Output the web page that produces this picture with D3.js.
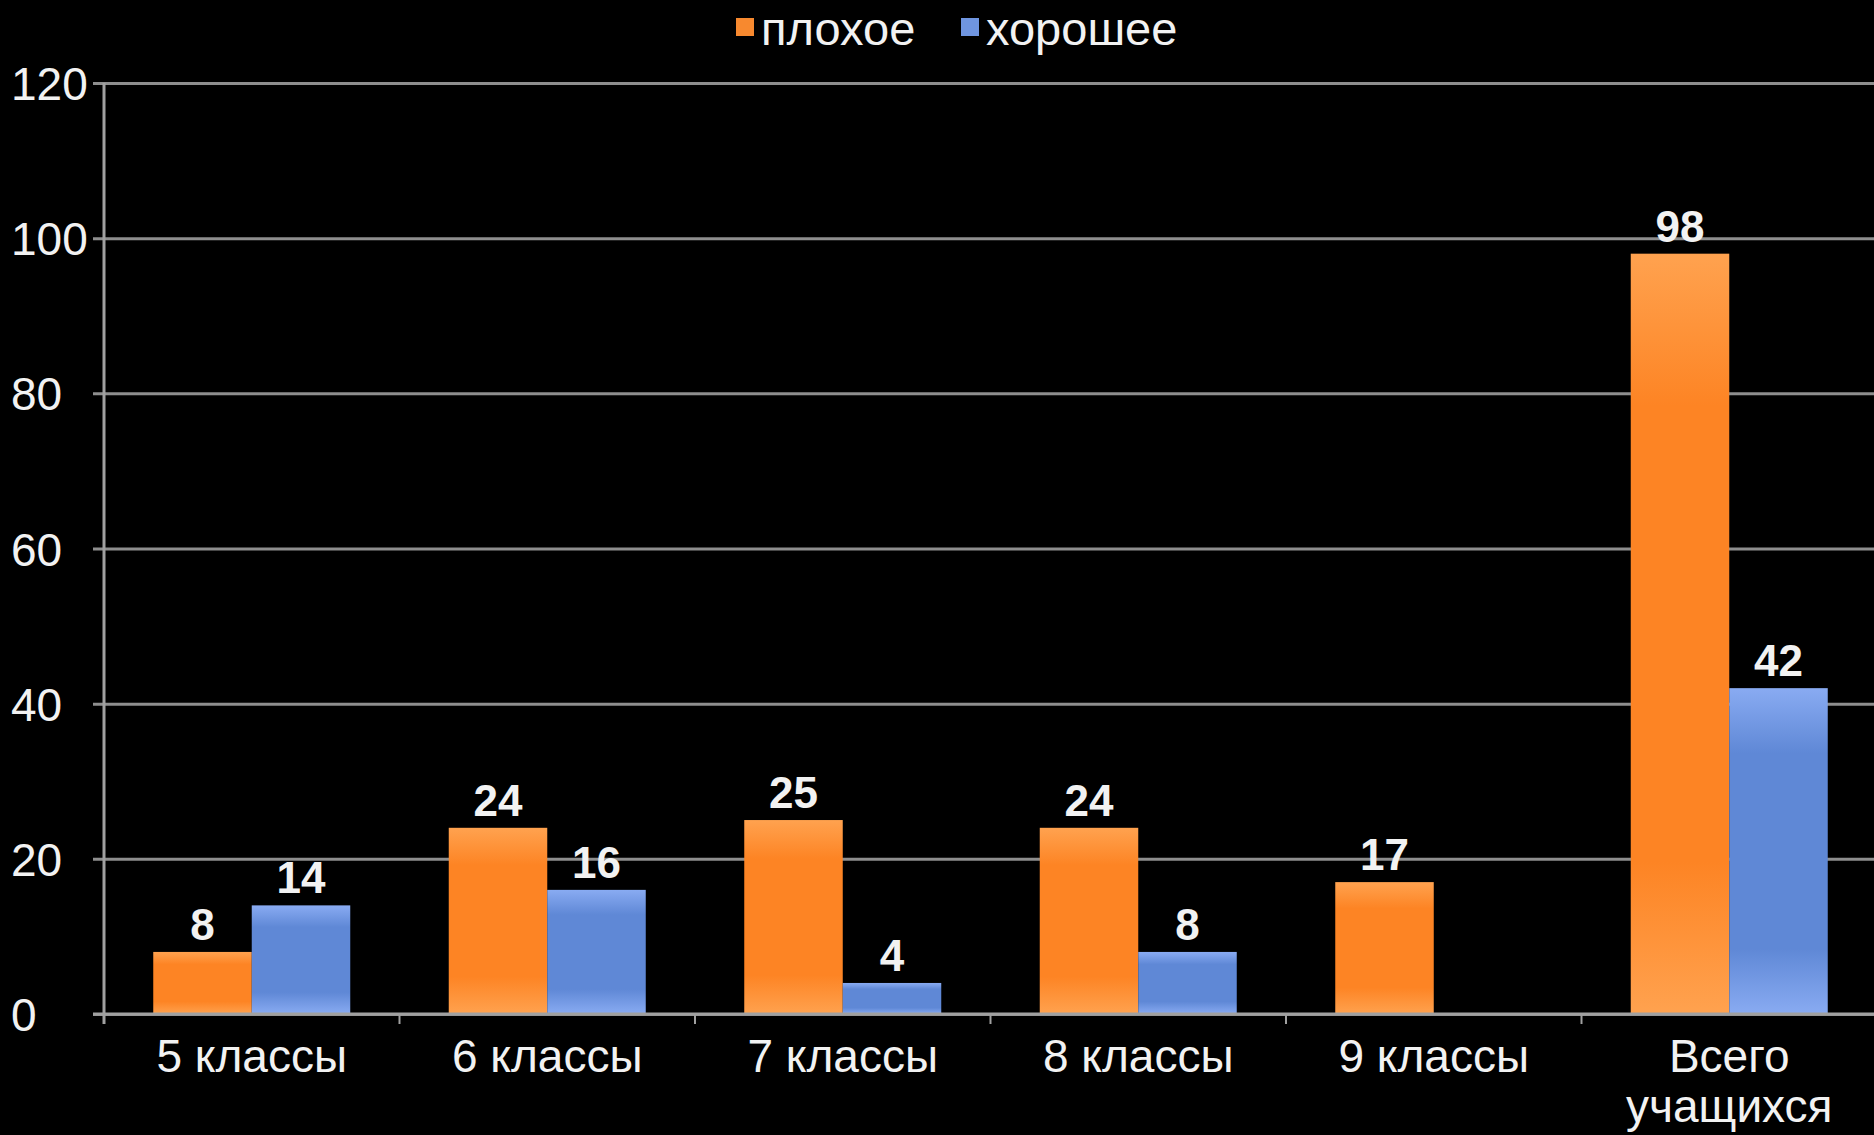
<!DOCTYPE html>
<html>
<head>
<meta charset="utf-8">
<script src="https://cdn.jsdelivr.net/npm/d3@7"></script>
<style>
  html, body { margin: 0; padding: 0; background: #000; }
  svg { display: block; }
  text { font-family: "Liberation Sans", Arial, sans-serif; fill: #f2f2f2; }
</style>
</head>
<body>
<svg></svg>
<script>
var categories = ["5 классы", "6 классы", "7 классы", "8 классы", "9 классы", "Всего\nучащихся"];
var seriesNames = ["плохое", "хорошее"];
var bad  = [8, 24, 25, 24, 17, 98];
var good = [14, 16, 4, 8, null, 42];
var yTicks = [0, 20, 40, 60, 80, 100, 120];

var width = 1874, height = 1135;
var margin = {top: 83, left: 104, bottom: 121};
var plotW = 6 * 295.5;

var svg = d3.select("svg").attr("width", width).attr("height", height);

var defs = svg.append("defs");
function grad(id, edge, mid) {
  var g = defs.append("linearGradient").attr("id", id)
    .attr("x1", 0).attr("y1", 0).attr("x2", 0).attr("y2", 1);
  g.append("stop").attr("offset", "0%").attr("stop-color", edge);
  g.append("stop").attr("offset", "20%").attr("stop-color", mid);
  g.append("stop").attr("offset", "80%").attr("stop-color", mid);
  g.append("stop").attr("offset", "100%").attr("stop-color", edge);
}
grad("gBad", "#ffa24f", "#fd8424");
grad("gGood", "#89abf2", "#5f88d6");
var fills = ["url(#gBad)", "url(#gGood)"];
var legendColors = ["#f7892f", "#6f95e0"];

var x = d3.scaleBand()
    .domain(categories)
    .range([margin.left, margin.left + plotW]);

var inner = d3.scaleBand()
    .domain([0, 1])
    .range([0, x.bandwidth()])
    .paddingInner(0)
    .paddingOuter(0.5);

var y = d3.scaleLinear()
    .domain([0, 120])
    .range([height - margin.bottom, margin.top]);

// y axis with gridlines
var yAxis = svg.append("g")
    .attr("transform", "translate(" + margin.left + ",0)")
    .call(d3.axisLeft(y).tickValues(yTicks).tickSize(-plotW).tickSizeOuter(0));
yAxis.select(".domain").remove();
yAxis.selectAll(".tick line")
    .attr("x1", -11)
    .attr("stroke", "#8e8e8e")
    .attr("stroke-width", 3);
yAxis.selectAll(".tick text")
    .attr("x", 11 - margin.left)
    .attr("dy", "0.36em")
    .attr("text-anchor", "start")
    .style("font-size", "46px")
    .attr("fill", "#f2f2f2");

svg.append("line")
    .attr("x1", margin.left).attr("x2", margin.left)
    .attr("y1", y(120)).attr("y2", y(0) + 10)
    .attr("stroke", "#a0a0a0").attr("stroke-width", 3);

// bars
var groups = svg.selectAll(".cat")
  .data(categories).enter()
  .append("g")
  .attr("transform", function(d) { return "translate(" + x(d) + ",0)"; });

[bad, good].forEach(function(vals, s) {
  groups.filter(function(d, i) { return vals[i] != null; })
    .append("rect")
    .attr("x", inner(s))
    .attr("width", inner.bandwidth())
    .attr("y", function(d) { return y(vals[categories.indexOf(d)]); })
    .attr("height", function(d) { return y(0) - y(vals[categories.indexOf(d)]); })
    .attr("fill", fills[s]);

  groups.filter(function(d, i) { return vals[i] != null; })
    .append("text")
    .attr("x", inner(s) + inner.bandwidth() / 2)
    .attr("y", function(d) { return y(vals[categories.indexOf(d)]) - 12; })
    .attr("text-anchor", "middle")
    .style("font-size", "44px")
    .style("font-weight", "bold")
    .attr("fill", "#ffffff")
    .text(function(d) { return vals[categories.indexOf(d)]; });
});

// x axis line and boundary ticks
svg.append("line")
    .attr("x1", margin.left - 11).attr("x2", width)
    .attr("y1", y(0)).attr("y2", y(0))
    .attr("stroke", "#a0a0a0").attr("stroke-width", 3);

svg.selectAll(".xtick")
  .data(categories.concat(["end"])).enter()
  .append("line")
  .attr("x1", function(d) { return d === "end" ? x.range()[1] : x(d); })
  .attr("x2", function(d) { return d === "end" ? x.range()[1] : x(d); })
  .attr("y1", y(0)).attr("y2", y(0) + 10)
  .attr("stroke", "#a0a0a0").attr("stroke-width", 2);

var xLabels = svg.selectAll(".xlab")
  .data(categories).enter()
  .append("text")
  .attr("text-anchor", "middle")
  .attr("x", function(d) { return x(d) + x.bandwidth() / 2; })
  .attr("y", 1072)
  .style("font-size", "46px");
xLabels.each(function(d) {
  var t = d3.select(this);
  d.split("\n").forEach(function(line, i) {
    t.append("tspan")
      .attr("x", x(d) + x.bandwidth() / 2)
      .attr("dy", i === 0 ? 0 : 50)
      .text(line);
  });
});

// legend
var legendX = [736, 961];
seriesNames.forEach(function(name, i) {
  svg.append("rect")
    .attr("x", legendX[i]).attr("y", 18)
    .attr("width", 18).attr("height", 18)
    .attr("fill", legendColors[i]);
  svg.append("text")
    .attr("x", legendX[i] + 25).attr("y", 45)
    .style("font-size", "47px")
    .text(name);
});
</script>
</body>
</html>
